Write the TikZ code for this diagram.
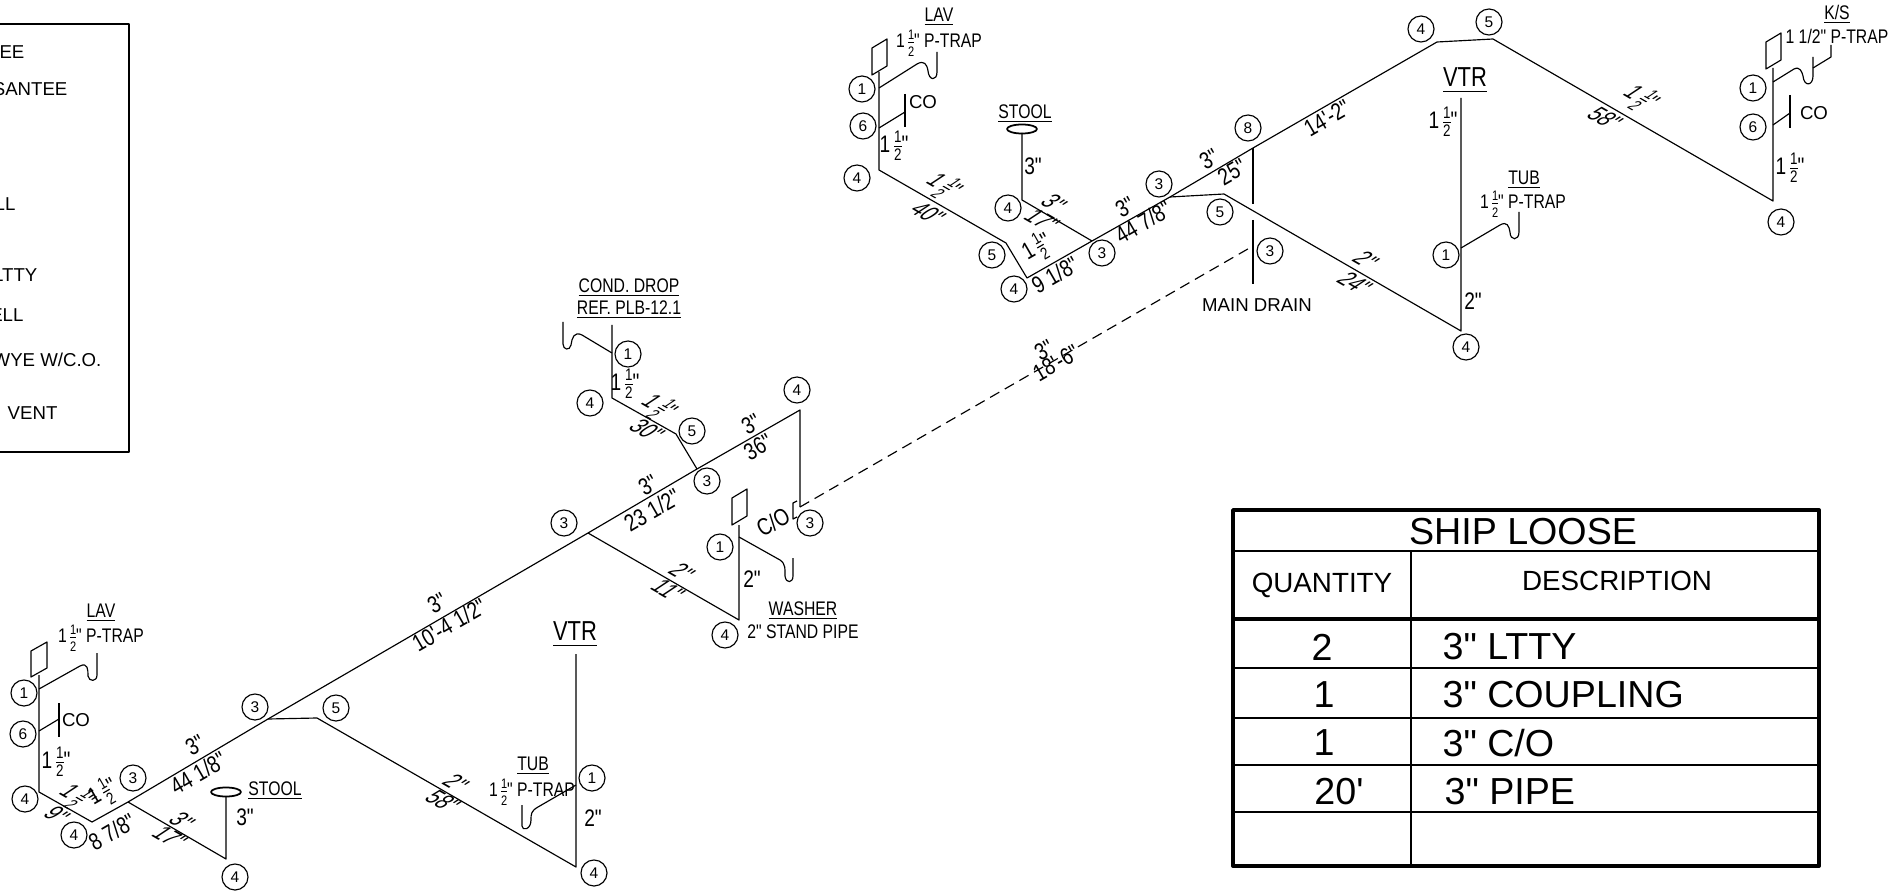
\documentclass[tikz,border=0pt]{standalone}
\usepackage{amsmath}
\usepackage{fontspec}
\setmainfont{Liberation Sans}
\newfontfamily\plainfont{Liberation Sans}
\newfontfamily\narrowfont[FakeStretch=0.8]{Liberation Sans}
\usetikzlibrary{shapes}
\newcommand{\halfin}{1\,{\nulldelimiterspace=0pt$\frac{\text{1}}{\text{2}}$}"}
\newcommand{\ulbl}[1]{\underline{#1}}

\begin{document}
\begin{tikzpicture}[x=0.01cm, y=-0.01cm, line width=0.33pt, line join=round]
\tikzstyle{every node}=[inner sep=0pt, font=\fontsize{5.3}{6}\plainfont]
\tikzstyle{tag}=[circle, draw, minimum size=2.6mm, font=\fontsize{4.4}{5}\plainfont]
\tikzstyle{dimlbl}=[font=\fontsize{6.8}{8}\narrowfont]
\tikzstyle{isoup}=[dimlbl, rotate=30, transform shape]
\tikzstyle{isodn}=[dimlbl, rotate=-30, xslant=0.5, transform shape]
\tikzstyle{note}=[font=\fontsize{5.6}{7}\narrowfont]
\tikzstyle{ulnote}=[note, yshift=-0.5pt]
\tikzstyle{vtrlbl}=[font=\fontsize{7.8}{9}\narrowfont, yshift=-0.8pt]
\tikzstyle{rowlbl}=[font=\fontsize{10.7}{12}\plainfont]
\tikzstyle{headlbl}=[font=\fontsize{7.9}{9}\plainfont]
\tikzstyle{fixture}=[draw, fill=white]
\useasboundingbox (0,0) rectangle (1899,891);

% key box
\draw (0,24) -- (129,24) -- (129,452) -- (0,452);
\node[anchor=east] (k1) at (25,52) {EE};
\node[anchor=east] (k2) at (68,89) {SANTEE};
\node[anchor=east] (k3) at (16,204) {LL};
\node[anchor=east] (k4) at (38,275) {LTTY};
\node[anchor=east] (k5) at (24,315) {ELL};
\node[anchor=east] (k6) at (102,360) {WYE W/C.O.};
\node[anchor=east] (k7) at (58,413) {VENT};

% lower run
\coordinate (a1) at (39,675);
\coordinate (a2) at (39,792);
\coordinate (a3) at (92,822);
\coordinate (a4) at (128,802);
\coordinate (a5) at (268,719);
\coordinate (a6) at (588,533);
\coordinate (a7) at (697,469);
\coordinate (a8) at (800,410);
\coordinate (a9) at (800,507);
\draw (a1) -- (a2) -- (a3) -- (a4) -- (a5) -- (a6) -- (a7) -- (a8) -- (a9);
\draw[fixture] (31,651) -- (47,642) -- (47,668) -- (31,677) -- cycle;
\draw (39,689) -- (80,666) .. controls (88,662) and (88,670) .. (88,676) .. controls (89,682) and (97,682) .. (97,675) -- (97,653);
\coordinate (a10) at (39,731);
\coordinate (a11) at (59,719);
\draw (a10) -- (a11);
\draw (59,703) -- (59,737);
\coordinate (b1) at (226,859);
\coordinate (b2) at (226,797);
\draw (a4) -- (b1) -- (b2);
\node[ellipse, draw, line width=0.5pt, minimum width=0.3cm, minimum height=0.09cm] (e1) at (226,792) {};
\coordinate (c1) at (317,718);
\coordinate (c2) at (576,867);
\coordinate (c3) at (576,654);
\draw (a5) -- (c1) -- (c2) -- (c3);
\draw (576,785) -- (538,807) .. controls (531,811) and (531,814) .. (531,820) .. controls (531,830) and (522,831) .. (522,826) -- (522,805);
\coordinate (d1) at (739,620);
\coordinate (d2) at (739,525);
\draw (a6) -- (d1) -- (d2);
\draw[fixture] (732,498) -- (747,489) -- (747,516) -- (732,525) -- cycle;
\draw (739,537) -- (780,560) .. controls (786,564) and (785,570) .. (785,576) .. controls (786,584) and (793,583) .. (793,576) -- (793,558);
\coordinate (f1) at (612,325);
\coordinate (f2) at (612,398);
\coordinate (f3) at (676,434);
\draw (f1) -- (f2) -- (f3) -- (a7);
\draw (612,353) -- (582,335) .. controls (574,331) and (572,338) .. (571,345) .. controls (570,351) and (563,350) .. (563,344) -- (563,322);
\draw (797,501) -- (793,503) -- (793,519) -- (797,517);

% long dashed run
\coordinate (g1) at (1253,246);
\draw[dashed, dash pattern=on 3pt off 1.8pt] (a9) -- (g1);

% upper run
\coordinate (h1) at (879,72);
\coordinate (h2) at (879,170);
\coordinate (h3) at (1006,243);
\coordinate (h4) at (1027,278);
\coordinate (h5) at (1092,241);
\coordinate (h6) at (1170,197);
\coordinate (h7) at (1253,148);
\coordinate (h8) at (1437,42);
\coordinate (h9) at (1493,39);
\coordinate (h10) at (1773,201);
\coordinate (h11) at (1773,68);
\draw (h1) -- (h2) -- (h3) -- (h4) -- (h5) -- (h6) -- (h7) -- (h8) -- (h9) -- (h10) -- (h11);
\draw[fixture] (872,48) -- (887,39) -- (887,66) -- (872,75) -- cycle;
\draw (879,88) -- (917,64) .. controls (924,60) and (927,64) .. (928,71) .. controls (929,81) and (937,81) .. (937,72) -- (937,52);
\coordinate (h12) at (879,128);
\coordinate (h13) at (905,112);
\draw (h12) -- (h13);
\draw (905,94) -- (905,127);
\coordinate (i1) at (1022,200);
\coordinate (i2) at (1022,133);
\draw (h5) -- (i1) -- (i2);
\node[ellipse, draw, line width=0.5pt, minimum width=0.3cm, minimum height=0.09cm] (e2) at (1022,129) {};
\coordinate (j1) at (1224,194);
\coordinate (j2) at (1461,331);
\coordinate (j3) at (1461,98);
\draw (h6) -- (j1) -- (j2) -- (j3);
\draw (1461,248) -- (1500,225) .. controls (1507,221) and (1509,226) .. (1510,232) .. controls (1510,241) and (1519,241) .. (1519,232) -- (1519,212);
\coordinate (m1) at (1253,204);
\coordinate (m2) at (1253,220);
\coordinate (m3) at (1253,284);
\draw (h7) -- (m1);
\draw (m2) -- (m3);
\draw[fixture] (1766,42) -- (1781,33) -- (1781,60) -- (1766,69) -- cycle;
\draw (1773,82) -- (1794,69) .. controls (1800,66) and (1802,72) .. (1803,76) .. controls (1804,87) and (1813,86) .. (1813,76) -- (1813,57);
\draw (1813,68) -- (1831,57) -- (1831,45);
\coordinate (h14) at (1773,125);
\coordinate (h15) at (1790,113);
\draw (h14) -- (h15);
\draw (1790,95) -- (1790,128);

% fitting tags
\node[tag] (n1) at (24,693) {1};
\node[tag] (n2) at (23,734) {6};
\node[tag] (n3) at (25,799) {4};
\node[tag] (n4) at (74,835) {4};
\node[tag] (n5) at (133,778) {3};
\node[tag] (n6) at (255,707) {3};
\node[tag] (n7) at (235,877) {4};
\node[tag] (n8) at (336,708) {5};
\node[tag] (n9) at (592,778) {1};
\node[tag] (n10) at (594,873) {4};
\node[tag] (n11) at (628,354) {1};
\node[tag] (n12) at (590,403) {4};
\node[tag] (n13) at (692,431) {5};
\node[tag] (n14) at (797,390) {4};
\node[tag] (n15) at (707,481) {3};
\node[tag] (n16) at (564,523) {3};
\node[tag] (n17) at (810,523) {3};
\node[tag] (n18) at (720,547) {1};
\node[tag] (n19) at (725,635) {4};
\node[tag] (n20) at (862,89) {1};
\node[tag] (n21) at (863,126) {6};
\node[tag] (n22) at (857,178) {4};
\node[tag] (n23) at (1008,208) {4};
\node[tag] (n24) at (992,255) {5};
\node[tag] (n25) at (1014,289) {4};
\node[tag] (n26) at (1102,253) {3};
\node[tag] (n27) at (1159,184) {3};
\node[tag] (n28) at (1220,212) {5};
\node[tag] (n29) at (1248,128) {8};
\node[tag] (n30) at (1270,251) {3};
\node[tag] (n31) at (1421,29) {4};
\node[tag] (n32) at (1489,22) {5};
\node[tag] (n33) at (1446,255) {1};
\node[tag] (n34) at (1466,347) {4};
\node[tag] (n35) at (1753,88) {1};
\node[tag] (n36) at (1753,127) {6};
\node[tag] (n37) at (1781,222) {4};

% labels, lower run
\node[ulnote] (l1) at (101,611) {\ulbl{LAV}};
\node[note] (l2) at (101,638) {\halfin{} P-TRAP};
\node (l3) at (76,720) {CO};
\node[dimlbl] (l4) at (56,762) {\halfin};
\node[isodn] (l5) at (76,797) {\halfin};
\node[isodn] (l6) at (57,815) {9"};
\node[isoup] (l7) at (103,793) {\halfin};
\node[isoup] (l8) at (112,832) {8 7/8"};
\node[isoup] (l9) at (195,745) {3"};
\node[isoup] (l10) at (198,773) {44 1/8"};
\node[isodn] (l11) at (182,821) {3"};
\node[isodn] (l12) at (170,837) {17"};
\node[dimlbl] (l13) at (245,817) {3"};
\node[ulnote] (l14) at (275,789) {\ulbl{STOOL}};
\node[ulnote] (l15) at (533,764) {\ulbl{TUB}};
\node[note] (l16) at (532,792) {\halfin{} P-TRAP};
\node[dimlbl] (l17) at (593,818) {2"};
\node[isodn] (l18) at (456,783) {2"};
\node[isodn] (l19) at (443,801) {58"};
\node[vtrlbl] (l20) at (575,632) {\ulbl{VTR}};
\node[isoup] (l21) at (437,603) {3"};
\node[isoup] (l22) at (449,625) {10'-4 1/2"};
\node[ulnote] (l23) at (629,286) {\ulbl{COND. DROP}};
\node[ulnote] (l24) at (629,308) {\ulbl{REF. PLB-12.1}};
\node[dimlbl] (l25) at (625,384) {\halfin};
\node[isodn] (l26) at (658,407) {\halfin};
\node[isodn] (l27) at (647,430) {30"};
\node[isoup] (l28) at (648,485) {3"};
\node[isoup] (l29) at (652,510) {23 1/2"};
\node[isoup] (l30) at (751,424) {3"};
\node[isoup] (l31) at (758,447) {36"};
\node[isoup] (l32) at (773,522) {C/O};
\node[dimlbl] (l33) at (752,579) {2"};
\node[isodn] (l34) at (682,572) {2"};
\node[isodn] (l35) at (668,590) {11"};
\node[ulnote] (l36) at (803,609) {\ulbl{WASHER}};
\node[note] (l37) at (803,632) {2" STAND PIPE};
\node[isoup] (l38) at (1044,350) {3"};
\node[isoup] (l39) at (1056,363) {18'-6"};

% labels, upper run
\node[ulnote] (u1) at (939,15) {\ulbl{LAV}};
\node[note] (u2) at (939,43) {\halfin{} P-TRAP};
\node (u3) at (923,102) {CO};
\node[dimlbl] (u4) at (894,146) {\halfin};
\node[isodn] (u5) at (943,186) {\halfin};
\node[isodn] (u6) at (928,213) {40"};
\node[ulnote] (u7) at (1025,112) {\ulbl{STOOL}};
\node[dimlbl] (u8) at (1033,166) {3"};
\node[isodn] (u9) at (1054,203) {3"};
\node[isodn] (u10) at (1042,220) {17"};
\node[isoup] (u11) at (1037,248) {\halfin};
\node[isoup] (u12) at (1055,275) {9 1/8"};
\node[isoup] (u13) at (1125,207) {3"};
\node[isoup] (u14) at (1143,222) {44 7/8"};
\node[isoup] (u15) at (1209,159) {3"};
\node[isoup] (u16) at (1232,172) {25"};
\node[isoup] (u17) at (1327,118) {14'-2"};
\node[vtrlbl] (u18) at (1465,78) {\ulbl{VTR}};
\node[dimlbl] (u19) at (1443,122) {\halfin};
\node[ulnote] (u20) at (1524,178) {\ulbl{TUB}};
\node[note] (u21) at (1523,204) {\halfin{} P-TRAP};
\node[dimlbl] (u22) at (1473,301) {2"};
\node[isodn] (u23) at (1366,260) {2"};
\node[isodn] (u24) at (1355,283) {24"};
\node (u25) at (1257,305) {MAIN DRAIN};
\node[ulnote] (u26) at (1837,13) {\ulbl{K/S}};
\node[note] (u27) at (1837,36) {1 1/2" P-TRAP};
\node (u28) at (1814,113) {CO};
\node[dimlbl] (u29) at (1790,168) {\halfin};
\node[isodn] (u30) at (1640,98) {\halfin};
\node[isodn] (u31) at (1605,118) {58"};

% loose parts table
\draw[line width=1.1pt] (1233,510) rectangle (1819,866);
\draw[line width=1.1pt] (1233,619) -- (1819,619);
\draw (1233,551) -- (1819,551);
\draw (1233,668) -- (1819,668);
\draw (1233,718) -- (1819,718);
\draw (1233,765) -- (1819,765);
\draw (1233,812) -- (1819,812);
\draw (1411,551) -- (1411,866);
\node[rowlbl] (s1) at (1523,532) {SHIP LOOSE};
\node[headlbl] (s2) at (1322,585) {QUANTITY};
\node[headlbl] (s3) at (1617,581) {DESCRIPTION};
\node[rowlbl] (s4) at (1322,647) {2};
\node[rowlbl, anchor=west] (s5) at (1442,647) {3" LTTY};
\node[rowlbl] (s6) at (1324,695) {1};
\node[rowlbl, anchor=west] (s7) at (1442,695) {3" COUPLING};
\node[rowlbl] (s8) at (1324,743) {1};
\node[rowlbl, anchor=west] (s9) at (1442,743) {3" C/O};
\node[rowlbl] (s10) at (1339,792) {20'};
\node[rowlbl, anchor=west] (s11) at (1444,792) {3" PIPE};

\end{tikzpicture}
\end{document}
